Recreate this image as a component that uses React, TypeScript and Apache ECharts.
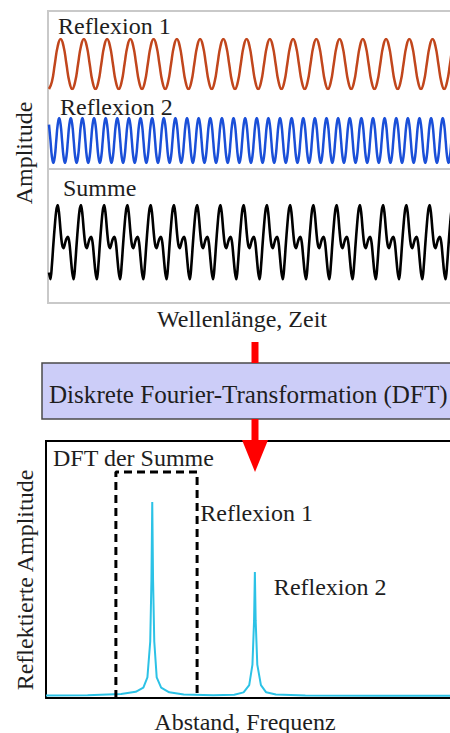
import React, { useEffect, useRef } from "react";
import * as echarts from "echarts";

// ---- data ----
// one cycle of each wave, sampled from the left edge of the plot (normalised to -1..1)
const reflexion1Cycle = [-1, -0.71, 0, 0.71, 1, 0.71, 0, -0.71];
const reflexion2Cycle = [0.71, 0, -0.71, -1, -0.71, 0, 0.71, 1];
const summeCycle = [-0.8, -0.98, -0.6, -0.05, 0.45, 0.85, 1.0, 0.75, 0.3, -0.05, -0.15, -0.03, 0.1, 0.15, 0.0, -0.4];
const reflexion1Cycles = 18;
const reflexion2Cycles = 36; // twice the frequency of Reflexion 1
const summeCycles = 18;
const timeAxisMax = 17.25; // visible length in Reflexion-1 periods

// DFT of the sum: [Abstand, Amplitude]
const dftX = [0, 10.3, 18.6, 22.2, 24.1, 25.1, 25.8, 26.1, 26.3, 26.5, 26.8, 27.4, 28.5, 30.5, 34.1, 41.4, 46.6, 48.9, 50.3, 51.1, 51.5, 51.7, 51.9, 52.3, 53.2, 54.5, 56.9, 64.2, 82.8, 100];
const dftY = [0.01, 0.011, 0.016, 0.024, 0.04, 0.08, 0.22, 0.46, 0.763, 0.46, 0.22, 0.08, 0.04, 0.022, 0.014, 0.011, 0.013, 0.022, 0.05, 0.13, 0.3, 0.49, 0.3, 0.13, 0.05, 0.022, 0.014, 0.01, 0.009, 0.009];
const peakLabels = ["Reflexion 1", "Reflexion 2"];
const peakX = [26.3, 51.7];
const peakY = [0.763, 0.49];
const windowX = [17.3, 37.4];
const windowTop = 0.879;

const waveTitles = ["Reflexion 1", "Reflexion 2", "Summe"];

const FONT = "'Liberation Serif', 'DejaVu Serif', serif";

function tile(cycle: number[], cycles: number, cycleLength: number) {
  const out: number[][] = [];
  for (let c = 0; c < cycles; c++) {
    for (let k = 0; k < cycle.length; k++) {
      out.push([(c + k / cycle.length) * cycleLength, cycle[k]]);
    }
  }
  out.push([cycles * cycleLength, cycle[0]]);
  return out;
}

export default function App() {
  const ref = useRef<HTMLDivElement>(null);
  useEffect(() => {
    if (!ref.current) return;
    const chart = echarts.init(ref.current, null, { renderer: "svg" });
    const textStyle = (text: string, extra: any = {}) => ({
      text,
      font: `24px ${FONT}`,
      fill: "#1e1e1e",
      verticalAlign: "middle",
      ...extra,
    });
    const hiddenX = (gridIndex: number, min: number, max: number) => ({
      type: "value", gridIndex, min, max, show: false,
    });
    const hiddenY = (gridIndex: number) => ({
      type: "value", gridIndex, min: -1, max: 1, show: false,
    });
    const frameAxis = {
      axisLine: { show: true, onZero: false, lineStyle: { color: "#000", width: 2 } },
      axisTick: { show: false },
      axisLabel: { show: false },
      splitLine: { show: false },
    };

    chart.setOption({
      animation: false,
      grid: [
        { left: 49, right: 0, top: 39, height: 50 },
        { left: 49, right: 0, top: 118, height: 45 },
        { left: 49, right: 0, top: 205, height: 75 },
        { left: 46, right: 0, top: 441, height: 257 },
      ],
      xAxis: [
        hiddenX(0, 0, timeAxisMax),
        hiddenX(1, 0, timeAxisMax),
        hiddenX(2, 0, timeAxisMax),
        { type: "value", gridIndex: 3, min: 0, max: 100, position: "bottom", ...frameAxis },
      ],
      yAxis: [
        hiddenY(0),
        hiddenY(1),
        hiddenY(2),
        { type: "value", gridIndex: 3, min: 0, max: 1, position: "left", ...frameAxis },
      ],
      series: [
        {
          type: "line", xAxisIndex: 0, yAxisIndex: 0, smooth: 0.5, symbol: "none",
          data: tile(reflexion1Cycle, reflexion1Cycles, 1),
          lineStyle: { color: "#c1461c", width: 2.5 },
        },
        {
          type: "line", xAxisIndex: 1, yAxisIndex: 1, smooth: 0.5, symbol: "none",
          data: tile(reflexion2Cycle, reflexion2Cycles, 0.5),
          lineStyle: { color: "#1a4fd8", width: 2.5 },
        },
        {
          type: "line", xAxisIndex: 2, yAxisIndex: 2, smooth: 0.35, symbol: "none",
          data: tile(summeCycle, summeCycles, 1),
          lineStyle: { color: "#000", width: 2.6 },
        },
        {
          type: "line", xAxisIndex: 3, yAxisIndex: 3, symbol: "none",
          data: dftX.map((x, i) => [x, dftY[i]]),
          lineStyle: { color: "#2cc2e6", width: 2 },
          z: 3,
        },
        {
          type: "line", xAxisIndex: 3, yAxisIndex: 3, symbol: "none",
          data: [[windowX[0], 0], [windowX[0], windowTop], [windowX[1], windowTop], [windowX[1], 0]],
          lineStyle: { color: "#000", width: 3, type: [8, 5] },
          z: 4,
        },
        {
          type: "scatter", xAxisIndex: 3, yAxisIndex: 3, symbolSize: 0,
          itemStyle: { opacity: 1 },
          data: [
            { value: [peakX[0], peakY[0]], name: peakLabels[0], label: { offset: [48, 11] } },
            { value: [peakX[1], peakY[1]], name: peakLabels[1], label: { offset: [19, 15] } },
          ],
          label: {
            show: true, position: "right", distance: 0, formatter: "{b}",
            fontFamily: FONT, fontSize: 24, color: "#1e1e1e", opacity: 1,
          },
          emphasis: { disabled: true },
        },
      ],
      graphic: [
        // top box
        {
          type: "rect", shape: { x: 48, y: 11, width: 440, height: 292 },
          style: { fill: "none", stroke: "#c9c9c9", lineWidth: 2 },
        },
        {
          type: "line", shape: { x1: 48, y1: 169, x2: 488, y2: 169 },
          style: { stroke: "#c9c9c9", lineWidth: 2 },
        },
        { type: "text", x: 58, y: 26, style: textStyle(waveTitles[0]) },
        { type: "text", x: 60, y: 106.5, style: textStyle(waveTitles[1]) },
        { type: "text", x: 63, y: 187.5, style: textStyle(waveTitles[2]) },
        {
          type: "text", x: 24, y: 153, rotation: Math.PI / 2,
          style: textStyle("Amplitude", { align: "center" }),
        },
        { type: "text", x: 242, y: 318.5, style: textStyle("Wellenlänge, Zeit", { align: "center" }) },
        // DFT box
        {
          type: "rect", shape: { x: 42, y: 363, width: 440, height: 56 },
          style: { fill: "#cccdf8", stroke: "#4a4a4a", lineWidth: 1.5 },
        },
        {
          type: "text", x: 49, y: 394.7,
          style: textStyle("Diskrete Fourier-Transformation (DFT)", { font: `25.1px ${FONT}` }),
        },
        // top border of the DFT panel
        {
          type: "line", shape: { x1: 45, y1: 441, x2: 460, y2: 441 },
          style: { stroke: "#000", lineWidth: 2 },
        },
        // arrows
        {
          type: "rect", z: 20, shape: { x: 251.5, y: 342, width: 7, height: 21 },
          style: { fill: "#ff0000" },
        },
        {
          type: "rect", z: 20, shape: { x: 251.5, y: 419, width: 7, height: 22 },
          style: { fill: "#ff0000" },
        },
        {
          type: "polygon", z: 20, shape: { points: [[242, 440], [268, 440], [255, 472]] },
          style: { fill: "#ff0000" },
        },
        // bottom panel texts
        { type: "text", x: 53, y: 457.5, style: textStyle("DFT der Summe") },
        {
          type: "text", x: 24.5, y: 580, rotation: Math.PI / 2,
          style: textStyle("Reflektierte Amplitude", { align: "center" }),
        },
        { type: "text", x: 245, y: 721.5, style: textStyle("Abstand, Frequenz", { align: "center" }) },
      ],
    });
    return () => chart.dispose();
  }, []);
  return (
    <div
      ref={ref}
      style={{ position: "fixed", left: 0, top: 0, width: 450, height: 733, background: "#fff" }}
    />
  );
}
